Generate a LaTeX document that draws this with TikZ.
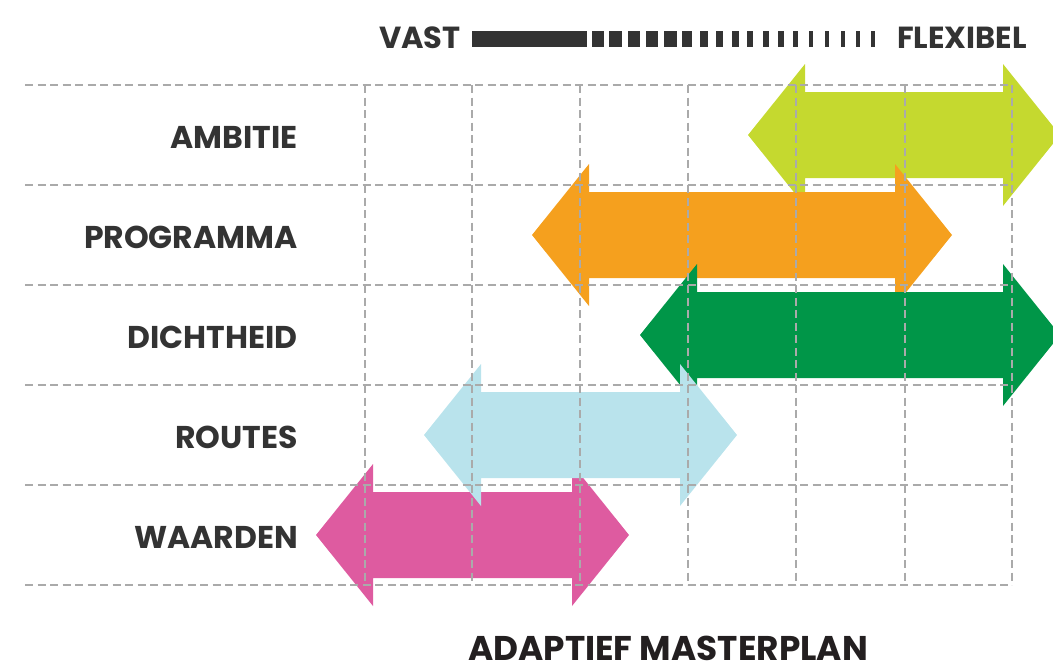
\documentclass[tikz,border=0pt]{standalone}
\usepackage{fontspec}
\setmainfont{Poppins}
\definecolor{labelgray}{HTML}{333333}
\definecolor{titleblack}{HTML}{231F20}
\definecolor{gridgray}{HTML}{AAAAAA}
\definecolor{cLime}{HTML}{C5D92F}
\definecolor{cOrange}{HTML}{F5A01E}
\definecolor{cGreen}{HTML}{009648}
\definecolor{cSky}{HTML}{B9E3EC}
\definecolor{cPink}{HTML}{DE5BA0}
% double-headed band: #1 left tip x, #2 right tip x, #3 centre y, #4 colour
\newcommand{\bandarrow}[4]{%
  \fill[#4] (#1,#3) -- ++(57,-71) -- ++(0,28) -- (#2-57,#3-43) -- ++(0,-28)
    -- (#2,#3) -- (#2-57,#3+71) -- ++(0,-28) -- (#1+57,#3+43) -- ++(0,28) -- cycle;}
\begin{document}
\begin{tikzpicture}[x=1pt,y=-1pt,
  rowlabel/.style={anchor=base east, inner sep=0pt, text=labelgray,
    font=\fontsize{31.5}{31.5}\selectfont\bfseries},
  scalelabel/.style={inner sep=0pt, text=labelgray,
    font=\fontsize{30.5}{30.5}\selectfont\bfseries},
  gridline/.style={gridgray, line width=1.4pt, dash pattern=on 8pt off 4.5pt},
  tick/.style={fill=labelgray}]
\useasboundingbox (0,0) rectangle (1053,670);
\begin{scope}
\clip (0,0) rectangle (1053,670);
% bands, one per row
\bandarrow{748}{1060}{135}{cLime}
\bandarrow{532}{952}{235}{cOrange}
\bandarrow{640}{1060}{335}{cGreen}
\bandarrow{316}{629}{535}{cPink}
\bandarrow{424}{737}{435}{cSky}
\end{scope}
% dashed grid over the bands
\foreach \y in {85,185,285,385,485,585}
  \draw[gridline] (25,\y) -- (1012,\y);
\foreach \x in {365,472,580,688,796,905,1012}
  \draw[gridline] (\x,85) -- (\x,585);
% row labels
\node[rowlabel] (ambitie) at (298,148) {AMBITIE};
\node[rowlabel] (programma) at (298,248) {PROGRAMMA};
\node[rowlabel] (dichtheid) at (298,348) {DICHTHEID};
\node[rowlabel] (routes) at (298,448) {ROUTES};
\node[rowlabel] (waarden) at (298,548) {WAARDEN};
% scale from fixed to flexible
\node[scalelabel, anchor=base west] (vast) at (379,48) {VAST};
\node[scalelabel, anchor=base east] (flexibel) at (1027,48) {FLEXIBEL};
\fill[tick] (472,31) rectangle (587,47);
\foreach \s/\w in {592/12,609/13,628/12,646/12,664/13,682/10,700/8,716/7,732/7,747/6,763/6,778/6,793/5,809/4,825/4,841/4,856/4,871/4}
  \fill[tick] (\s,31) rectangle (\s+\w,47);
% caption
\node[anchor=base, inner sep=0pt, text depth=0pt, text=titleblack,
  font=\fontsize{34.3}{34.3}\selectfont\bfseries] (caption) at (668,660) {ADAPTIEF MASTERPLAN};
\end{tikzpicture}
\end{document}
